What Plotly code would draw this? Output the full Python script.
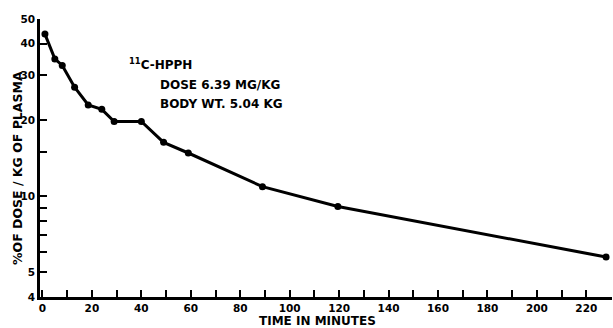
import plotly.graph_objects as go
import math

time_min = [1, 5, 8, 13, 18.5, 24, 29, 40, 49, 59, 89, 119.5, 228]
pct_dose = [43.6, 34.8, 32.8, 26.9, 22.9, 22.0, 19.7, 19.7, 16.3, 14.8, 10.9, 9.1, 5.75]

y_tickvals = [4, 5, 6, 7, 8, 9, 10, 15, 20, 30, 40, 50]
y_ticktext = ["4", "5", "", "", "", "", "10", "", "20", "30", "40", "50"]
x_tickvals = list(range(0, 230, 10))
x_ticktext = [str(v) if v % 20 == 0 else "" for v in x_tickvals]

FAM = "DejaVu Sans, Liberation Sans, sans-serif"
font_text = dict(family=FAM, size=12, color="black", weight="bold")
font_ytitle = dict(family=FAM, size=12.5, color="black", weight="bold")
font_tick = dict(family=FAM, size=10.5, color="black", weight="bold")

W, H = 613, 328
l, r, t, b = 40, 1, 19, 31

fig = go.Figure()
fig.add_trace(go.Scatter(
    x=time_min, y=pct_dose, mode="lines+markers",
    line=dict(color="black", width=3),
    marker=dict(color="black", size=7),
    showlegend=False, cliponaxis=False,
))

fig.update_layout(
    width=W, height=H,
    margin=dict(l=l, r=r, t=t, b=b),
    paper_bgcolor="white", plot_bgcolor="white",
    font=font_text,
    xaxis=dict(
        range=[-1, 230.4], tickvals=x_tickvals, ticktext=x_ticktext,
        ticks="inside", ticklen=7, tickwidth=2, tickcolor="black",
        showline=True, linecolor="black", linewidth=2.5,
        showgrid=False, zeroline=False, tickfont=font_tick,
    ),
    yaxis=dict(
        type="log", range=[math.log10(4), math.log10(50)],
        tickvals=y_tickvals, ticktext=y_ticktext,
        ticks="inside", ticklen=7, tickwidth=2, tickcolor="black",
        showline=True, linecolor="black", linewidth=2.5,
        showgrid=False, zeroline=False, tickfont=font_tick,
    ),
)

pw, ph = W - l - r, H - t - b
def px(xp):
    return (xp - l) / pw
def py(yp):
    return 1 - (yp - t) / ph

for txt, xp, yp in [
    ("<sup>11</sup>C-HPPH", 127, 64),
    ("DOSE 6.39 MG/KG", 158, 85),
    ("BODY WT. 5.04 KG", 158, 104),
]:
    fig.add_annotation(x=px(xp), y=py(yp), xref="paper", yref="paper",
                       text=txt, showarrow=False, xanchor="left", yanchor="middle",
                       font=font_text)

fig.add_annotation(x=px(317), y=py(321), xref="paper", yref="paper",
                   text="TIME IN MINUTES", showarrow=False,
                   xanchor="center", yanchor="middle", font=font_text)
fig.add_annotation(x=px(17), y=py(168), xref="paper", yref="paper",
                   text="%OF DOSE / KG OF PLASMA", showarrow=False, textangle=-90,
                   xanchor="center", yanchor="middle", font=font_ytitle)

fig.write_html("out.html", config={"displayModeBar": False},
               post_script="document.body.style.margin='0';")
